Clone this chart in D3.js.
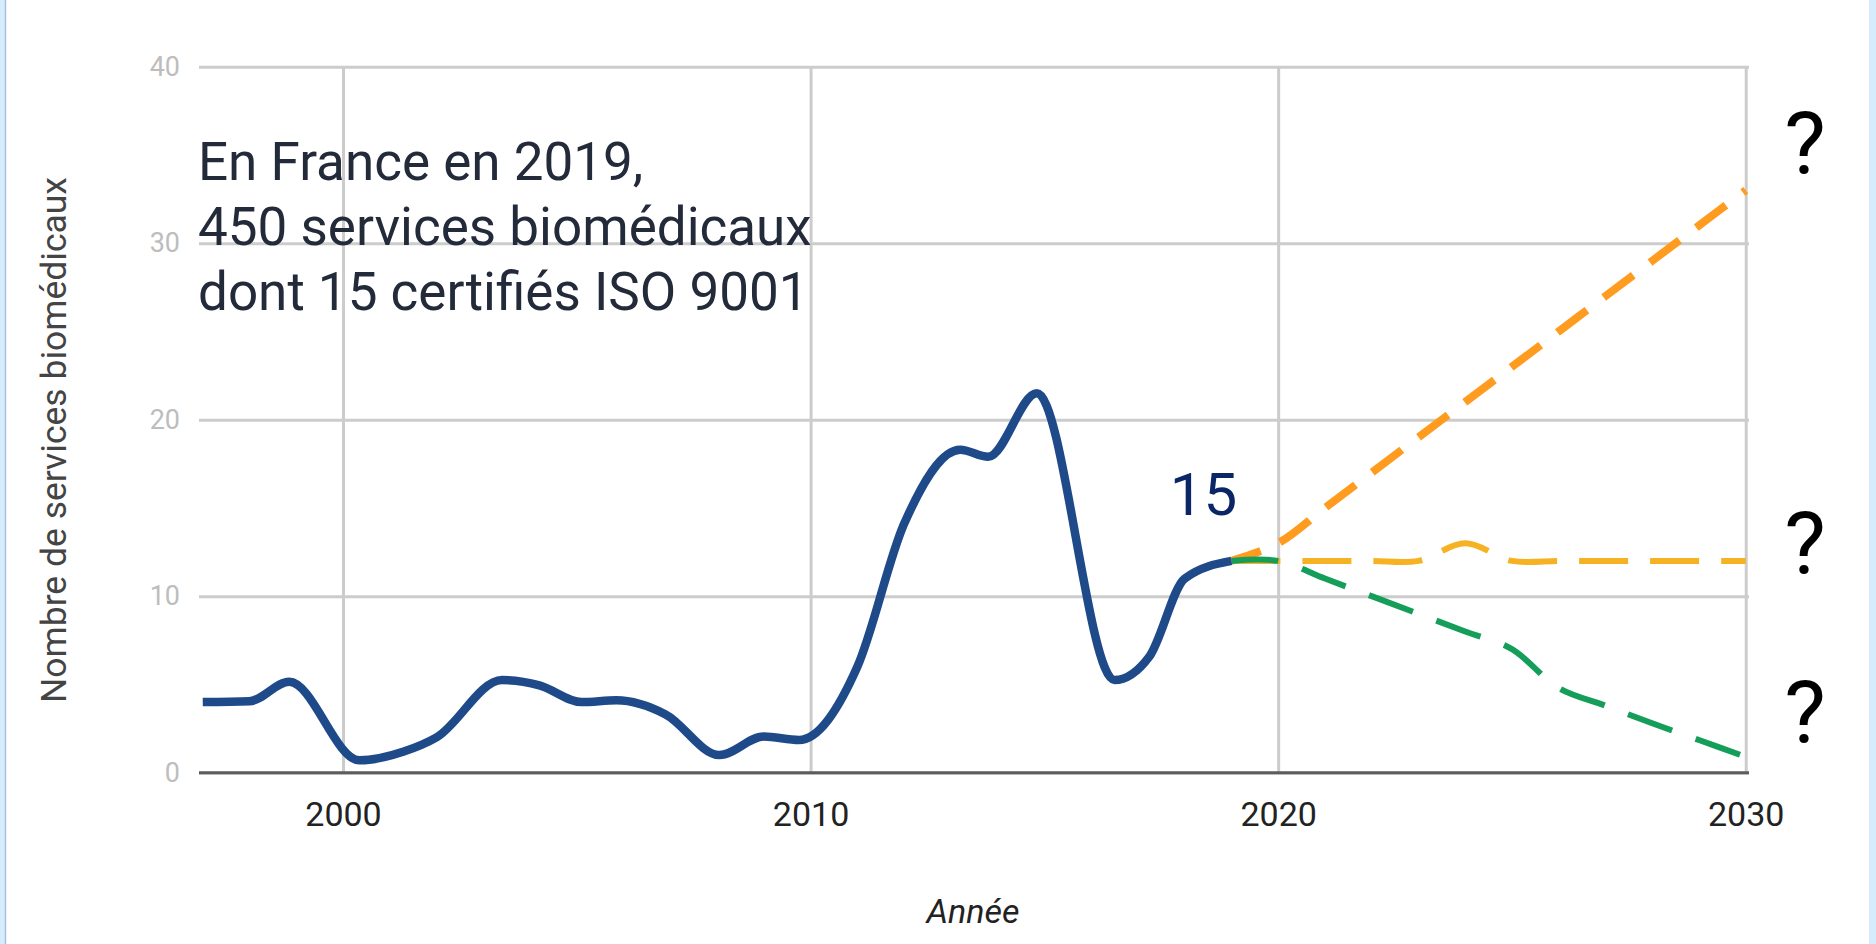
<!DOCTYPE html>
<html>

<head>
  <meta charset="utf-8">
  <title>Services biomédicaux</title>
  <script src="https://cdn.jsdelivr.net/npm/d3@7"></script>
  <style>
    body { margin: 0; background: #fff; }
    text { font-family: Roboto, "Liberation Sans", sans-serif; }
  </style>
</head>

<body>
  <svg width="1876" height="944" id="mainsvg"></svg>
  <script>
    // historic series (key points)
    const histYears = [1997, 1998, 1998.85, 2000.35, 2001.3, 2002, 2003.4, 2004.2, 2005.1, 2005.85, 2006.9,
      2008.05, 2009, 2009.75, 2011, 2012, 2013.2, 2013.8, 2014.84, 2016.5, 2017.25, 2018, 2019];
    const histValues = [4, 4.05, 5.15, 0.7, 1.2, 2, 5.25, 4.95, 4, 4.1, 3.3,
      1, 2.05, 1.85, 6, 14.1, 18.3, 17.9, 21.5, 5.25, 6.6, 11, 12];

    // scenarios 2019 -> 2030
    const futureYears = [2019, 2020, 2021, 2022, 2023, 2024, 2025, 2026, 2027, 2028, 2029, 2030];
    const highValues = [12, 13, 15, 17, 19, 21, 23, 25, 27, 29, 31, 33];
    const flatValues = [12, 12, 12, 12, 12, 13, 12, 12, 12, 12, 12, 12];
    const lowValues = [12, 12, 11, 10, 9, 8, 7, 4.8, 3.8, 2.8, 1.85, 0.9];

    const yTicks = [0, 10, 20, 30, 40];
    const xTicks = [2000, 2010, 2020, 2030];

    const noteLines = ['En France en 2019,', '450 services biomédicaux', 'dont 15 certifiés ISO 9001'];
    const questionValues = [34, 11.3, 1.74]; // baselines of the "?" marks

    const svg = d3.select('#mainsvg');
    const width = +svg.attr('width');
    const height = +svg.attr('height');
    const plot = { left: 199, right: 1749, top: 66.7, bottom: 772.7 };

    // side borders
    svg.append('rect').attr('x', 0).attr('y', 0).attr('width', 5).attr('height', height).attr('fill', '#d5ecfd');
    svg.append('line').attr('x1', 5.5).attr('x2', 5.5).attr('y1', 0).attr('y2', height)
      .attr('stroke', '#a9c2d5').attr('stroke-width', 1.5);
    svg.append('rect').attr('x', 1869).attr('y', 0).attr('width', width - 1869).attr('height', height).attr('fill', '#d5ecfd');

    const xScale = d3.scaleLinear().domain([1996.92, 2030.07]).range([plot.left, plot.right]);
    const yScale = d3.scaleLinear().domain([0, 40]).range([plot.bottom, plot.top]);

    // grid
    const yGrid = svg.append('g').attr('transform', `translate(${plot.left},0)`)
      .call(d3.axisLeft(yScale).tickValues(yTicks).tickSize(-(plot.right - plot.left)).tickFormat(''));
    const xGrid = svg.append('g').attr('transform', `translate(0,${plot.bottom})`)
      .call(d3.axisBottom(xScale).tickValues(xTicks).tickSize(-(plot.bottom - plot.top)).tickFormat(''));
    [yGrid, xGrid].forEach(g => {
      g.select('.domain').remove();
      g.selectAll('.tick line').attr('stroke', '#cccccc').attr('stroke-width', 3);
    });

    // tick labels
    const yAxis = svg.append('g').attr('transform', `translate(${plot.left},0)`)
      .call(d3.axisLeft(yScale).tickValues(yTicks).tickSize(0).tickPadding(19));
    yAxis.select('.domain').remove();
    yAxis.selectAll('text').attr('font-size', 27).attr('fill', '#bdbdbd')
      .attr('font-family', 'Roboto, sans-serif');

    const xAxis = svg.append('g').attr('transform', `translate(0,${plot.bottom})`)
      .call(d3.axisBottom(xScale).tickValues(xTicks).tickSize(0).tickFormat(d3.format('d')));
    xAxis.select('.domain').remove();
    xAxis.selectAll('text').attr('y', 53).attr('dy', 0).attr('font-size', 34).attr('fill', '#222')
      .attr('font-family', '"Liberation Sans", Arial, sans-serif');

    // zero line
    svg.append('line').attr('x1', plot.left).attr('x2', plot.right).attr('y1', yScale(0)).attr('y2', yScale(0))
      .attr('stroke', '#5c5c5c').attr('stroke-width', 3);

    // axis titles
    svg.append('text').attr('transform', `translate(54,440) rotate(-90)`)
      .attr('text-anchor', 'middle').attr('dominant-baseline', 'central')
      .attr('font-size', 35.5).attr('fill', '#444').text('Nombre de services biomédicaux');
    svg.append('text').attr('x', 973).attr('y', 923).attr('text-anchor', 'middle')
      .attr('font-size', 34).attr('font-style', 'italic').attr('fill', '#222')
      .attr('font-family', '"Liberation Sans", Arial, sans-serif').text('Année');

    // lines
    const fLine = d3.line().x(d => xScale(d[0])).y(d => yScale(d[1])).curve(d3.curveCatmullRom.alpha(0.5));
    const hLine = d3.line().x(d => xScale(d[0])).y(d => yScale(d[1])).curve(d3.curveMonotoneX);
    const zip = vals => futureYears.map((y, i) => [y, vals[i]]);

    svg.append('path').datum(zip(highValues)).attr('d', fLine).attr('fill', 'none')
      .attr('stroke', '#ff9c1f').attr('stroke-width', 8).attr('stroke-dasharray', '37,21').attr('stroke-dashoffset', 6);
    svg.append('path').datum(zip(flatValues)).attr('d', fLine).attr('fill', 'none')
      .attr('stroke', '#f5b324').attr('stroke-width', 6).attr('stroke-dasharray', '49,22');
    svg.append('path').datum(zip(lowValues)).attr('d', fLine).attr('fill', 'none')
      .attr('stroke', '#149e5a').attr('stroke-width', 6).attr('stroke-dasharray', '47,25');
    svg.append('path').datum(histYears.map((y, i) => [y, histValues[i]])).attr('d', hLine).attr('fill', 'none')
      .attr('stroke', '#1f4a8a').attr('stroke-width', 8.5).attr('stroke-linejoin', 'round');

    // annotations
    svg.append('g').selectAll('text').data(noteLines).enter().append('text')
      .attr('x', plot.left - 1).attr('y', (d, i) => 180 + i * 65)
      .attr('font-size', 53).attr('fill', '#232b3a').text(d => d);

    svg.append('text').attr('x', xScale(2017.68)).attr('y', yScale(14.6))
      .attr('font-size', 60).attr('fill', '#0b2666')
      .attr('font-family', '"Liberation Sans", Arial, sans-serif').text('15');

    svg.append('g').selectAll('text').data(questionValues).enter().append('text')
      .attr('x', 1805).attr('y', d => yScale(d)).attr('text-anchor', 'middle')
      .attr('font-size', 88).attr('fill', '#000')
      .attr('font-family', '"Liberation Sans", Arial, sans-serif').text('?');
  </script>
</body>

</html>
